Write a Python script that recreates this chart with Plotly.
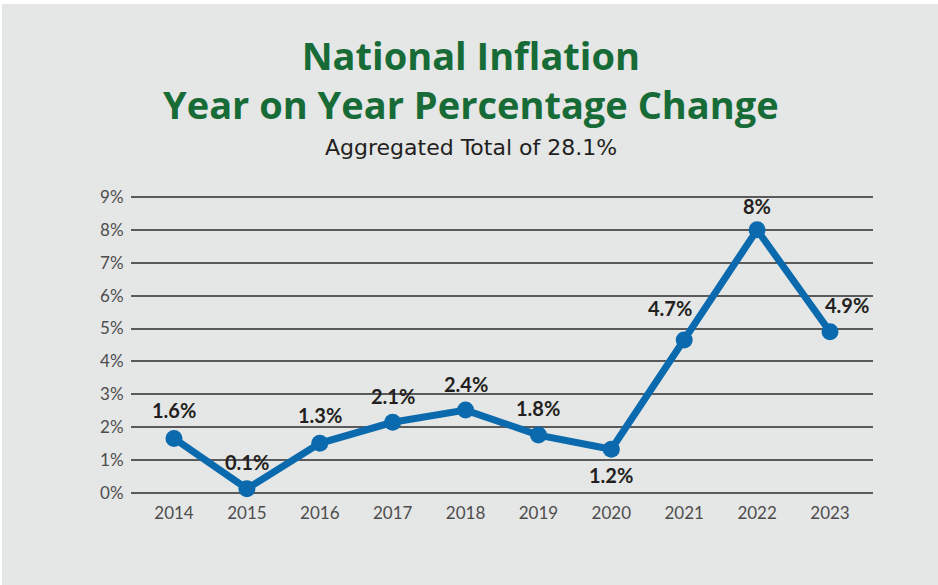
import plotly.graph_objects as go

# ---- data ----
years = ["2014", "2015", "2016", "2017", "2018", "2019", "2020", "2021", "2022", "2023"]
values = [1.66, 0.13, 1.51, 2.15, 2.52, 1.76, 1.33, 4.65, 8.0, 4.9]
labels = ["1.6%", "0.1%", "1.3%", "2.1%", "2.4%", "1.8%", "1.2%", "4.7%", "8%", "4.9%"]
y_ticks = [0, 1, 2, 3, 4, 5, 6, 7, 8, 9]
y_tick_text = ["0%", "1%", "2%", "3%", "4%", "5%", "6%", "7%", "8%", "9%"]

title_1 = "National Inflation"
title_2 = "Year on Year Percentage Change"
subtitle = "Aggregated Total of 28.1%"

# label offsets (pixels) – style only
label_xshift = [0, 0, 0, 0, 0, 0, 0, -14, 0, 17]
label_yshift = [28, 27, 28, 26, 26, 27, -26, 32, 24, 27]

GREEN = "#176b37"
BLUE = "#0a6aad"
BG = "#e5e6e6"
GRID = "#5a5a5a"

fig = go.Figure()
fig.add_trace(go.Scatter(
    x=list(range(len(years))), y=values, mode="lines+markers",
    line=dict(color=BLUE, width=7),
    marker=dict(color=BLUE, size=17),
    cliponaxis=False, hoverinfo="skip", showlegend=False,
))

W, H = 938, 585
ml, mr, mt, mb = 131, 65, 194, 92
pw, ph = W - ml - mr, H - mt - mb

def px_to_paper_x(px):
    return (px - ml) / pw

def px_to_paper_y(py):
    return (H - mb - py) / ph

annotations = []
for i, (v, t) in enumerate(zip(values, labels)):
    annotations.append(dict(
        x=i, y=v, xref="x", yref="y", text=t, showarrow=False,
        xshift=label_xshift[i], yshift=label_yshift[i],
        xanchor="center", yanchor="middle",
        font=dict(family="Lato", size=20, color="#231f20", weight="bold"),
    ))

annotations += [
    dict(x=px_to_paper_x(471), y=px_to_paper_y(79), xref="paper", yref="paper",
         text=title_1 + "<br>" + title_2, showarrow=False,
         xanchor="center", yanchor="middle", align="center",
         font=dict(family="Open Sans", size=38, color=GREEN, weight="bold")),
    dict(x=px_to_paper_x(471), y=px_to_paper_y(147), xref="paper", yref="paper",
         text=subtitle, showarrow=False, xanchor="center", yanchor="middle",
         font=dict(family="DejaVu Sans", size=22, color="#231f20")),
]

fig.update_layout(
    width=W, height=H,
    margin=dict(l=ml, r=mr, t=mt, b=mb),
    paper_bgcolor="white",
    plot_bgcolor="rgba(0,0,0,0)",
    annotations=annotations,
    shapes=[dict(type="rect", xref="paper", yref="paper", layer="below",
                 x0=px_to_paper_x(2), x1=px_to_paper_x(W + 5),
                 y0=px_to_paper_y(H + 5), y1=px_to_paper_y(4),
                 fillcolor=BG, line=dict(width=0))],
)
fig.update_xaxes(
    range=[-0.59, 9.59], tickmode="array",
    tickvals=list(range(len(years))), ticktext=years,
    showgrid=False, zeroline=False, showline=False,
    ticks="outside", ticklen=5, tickcolor="rgba(0,0,0,0)",
    tickfont=dict(family="Lato", size=17, color="#4d4d4d"),
)
fig.update_yaxes(
    range=[0, 9.09], tickmode="array", tickvals=y_ticks, ticktext=y_tick_text,
    showgrid=True, gridcolor=GRID, gridwidth=1.5,
    zeroline=True, zerolinecolor=GRID, zerolinewidth=1.5, showline=False,
    ticks="outside", ticklen=3, tickcolor="rgba(0,0,0,0)",
    tickfont=dict(family="Lato", size=17, color="#4d4d4d"),
)

fig.write_html("out.html")
